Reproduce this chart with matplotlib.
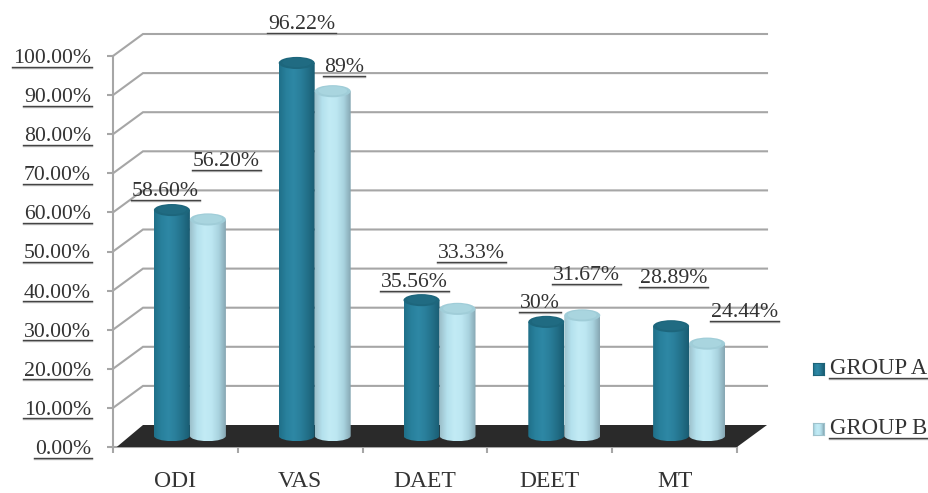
import numpy as np
import matplotlib
matplotlib.use("Agg")
import matplotlib.pyplot as plt
from matplotlib.colors import LinearSegmentedColormap
from matplotlib.lines import Line2D
from matplotlib.patches import Ellipse, PathPatch, Polygon
from matplotlib.path import Path
from matplotlib.transforms import IdentityTransform

categories = ["ODI", "VAS", "DAET", "DEET", "MT"]
group_a = [58.60, 96.22, 35.56, 30.0, 28.89]
group_b = [56.20, 89.0, 33.33, 31.67, 24.44]
labels_a = ["58.60%", "96.22%", "35.56%", "30%", "28.89%"]
labels_b = ["56.20%", "89%", "33.33%", "31.67%", "24.44%"]
series_names = ["GROUP A", "GROUP B"]
y_ticks = [0, 10, 20, 30, 40, 50, 60, 70, 80, 90, 100]

# Label anchors in pixels from the top-left corner: left edge, baseline
anchors_a = [(132, 196), (268, 29), (381, 287), (520, 308), (640, 283)]
anchors_b = [(193, 166), (324, 72), (438, 258), (553, 280), (711, 317)]

W, H = 929, 493
TEXT = "#333333"
GRID = "#a6a6a6"
FONT = "Liberation Serif"
FS = 15.7

plt.rcParams["font.family"] = FONT
fig = plt.figure(figsize=(W / 100, H / 100), dpi=100, facecolor="white")
ax = fig.add_axes([113 / W, (H - 447) / H, 624 / W, 391 / H])
ax.set_facecolor("none")

# Oblique projection offsets for the back wall, in data units
DX = 30 / 124.8
DY = 22 / 3.91
FOOT = 2.85
HEAD = 2.0
RX = 18 / 124.8
RY_TOP = 1.55
RY_BOT = 1.35
cmap_a = LinearSegmentedColormap.from_list(
    "a", ["#1f6f88", "#28809c", "#2e88a5", "#2a7f9b", "#226f88", "#1a5c72"])
cmap_b = LinearSegmentedColormap.from_list(
    "b", ["#9cc0cb", "#b4e1ed", "#c2ebf5", "#bde7f2", "#a9d3df", "#86a6b2"])
ramp = np.linspace(0, 1, 256).reshape(1, -1)

# Back wall grid and the diagonals running to the front axis
for v in y_ticks[1:]:
    ax.plot([0, DX, 5 + DX], [v, v + DY, v + DY], color=GRID, lw=1.5,
            clip_on=False, zorder=1, solid_joinstyle="miter")

# Floor
ax.add_patch(Polygon([(0.03, 0), (DX, DY), (5 + DX, DY), (5, 0)],
                     closed=True, facecolor="#2a2a2a", edgecolor="none",
                     clip_on=False, zorder=2))


def cylinder(xc, value, cmap, cap_edge, cap_mid, z):
    """Draw one upright cylinder standing on the floor."""
    y0, y1 = FOOT, value + HEAD
    k = 0.5523
    verts = [(xc - RX, y1), (xc - RX, y0),
             (xc - RX, y0 - k * RY_BOT), (xc - k * RX, y0 - RY_BOT), (xc, y0 - RY_BOT),
             (xc + k * RX, y0 - RY_BOT), (xc + RX, y0 - k * RY_BOT), (xc + RX, y0),
             (xc + RX, y1), (xc - RX, y1)]
    codes = [Path.MOVETO, Path.LINETO, Path.CURVE4, Path.CURVE4, Path.CURVE4,
             Path.CURVE4, Path.CURVE4, Path.CURVE4, Path.LINETO, Path.CLOSEPOLY]
    body = PathPatch(Path(verts, codes), facecolor="none", edgecolor="none",
                     transform=ax.transData)
    ax.add_patch(body)
    im = ax.imshow(ramp, cmap=cmap, aspect="auto", interpolation="bilinear",
                   extent=(xc - RX, xc + RX, y0 - RY_BOT, y1), zorder=z)
    im.set_clip_path(body)
    ax.add_patch(Ellipse((xc, y1), 2 * RX, 2 * RY_TOP, facecolor=cap_edge,
                         edgecolor="none", clip_on=False, zorder=z + 0.1))
    ax.add_patch(Ellipse((xc, y1 + 0.1), 1.6 * RX, 1.5 * RY_TOP, facecolor=cap_mid,
                         edgecolor="none", clip_on=False, zorder=z + 0.2))


for i in range(len(categories)):
    shift = i + 0.5 + 0.45 * DX + 1 / 124.8
    cylinder(shift - RX, group_a[i], cmap_a, "#1d667c", "#206b82", 3 + i)
    cylinder(shift + RX, group_b[i], cmap_b, "#a0cdd8", "#a9d5df", 3.5 + i)

# Axes, ticks and category names
ax.set_xlim(0, 5)
ax.set_ylim(0, 100)
for name in ("top", "right"):
    ax.spines[name].set_visible(False)
for name in ("left", "bottom"):
    ax.spines[name].set_color(GRID)
    ax.spines[name].set_linewidth(1.5)
    ax.spines[name].set_zorder(1.5)
ax.set_yticks(y_ticks)
ax.set_yticklabels([f"{v:.2f}%" for v in y_ticks], fontsize=FS, color=TEXT)
ax.tick_params(axis="y", length=4.5, width=1.5, color=GRID, pad=11.5)
ax.set_xticks(range(6))
ax.set_xticklabels([])
ax.tick_params(axis="x", which="major", length=4.5, width=1.5, color=GRID)
ax.set_xticks(np.arange(5) + 0.5, minor=True)
ax.set_xticklabels(categories, minor=True, fontsize=17, color=TEXT)
ax.tick_params(axis="x", which="minor", length=0, pad=17)


def px_text(x, y, s, size=FS):
    return fig.text(x / W, (H - y) / H, s, fontsize=size, color=TEXT, va="baseline")


value_texts = [px_text(*p, s) for p, s in zip(anchors_a + anchors_b, labels_a + labels_b)]

# Legend keys carry the same shading as the bars
legend_texts = []
for cmap, edge, name, top, base in zip((cmap_a, cmap_b), ("#1c6378", "#9fc2cc"),
                                       series_names, (363, 423), (374, 434)):
    key = fig.add_axes([813 / W, (H - top - 12) / H, 11 / W, 12 / H])
    key.imshow(ramp, cmap=cmap, aspect="auto", interpolation="bilinear")
    key.set_xticks([])
    key.set_yticks([])
    for spine in key.spines.values():
        spine.set_color(edge)
    legend_texts.append(px_text(830, base, name, size=16.4))

# Underline every value, axis and legend label
fig.canvas.draw()
renderer = fig.canvas.get_renderer()
to_underline = value_texts + legend_texts + list(ax.get_yticklabels())
for t in to_underline:
    box = t.get_window_extent(renderer)
    y = box.y0 + 1.5
    xa, xb = box.x0 - 1, box.x1 + 1
    fig.add_artist(Line2D([xa, xb], [y - 1, y - 1], color="#bbbbbb", lw=1,
                          transform=IdentityTransform()))
    fig.add_artist(Line2D([xa, xb], [y, y], color="#444444", lw=1,
                          transform=IdentityTransform()))

fig.savefig("out.png", dpi=100)
